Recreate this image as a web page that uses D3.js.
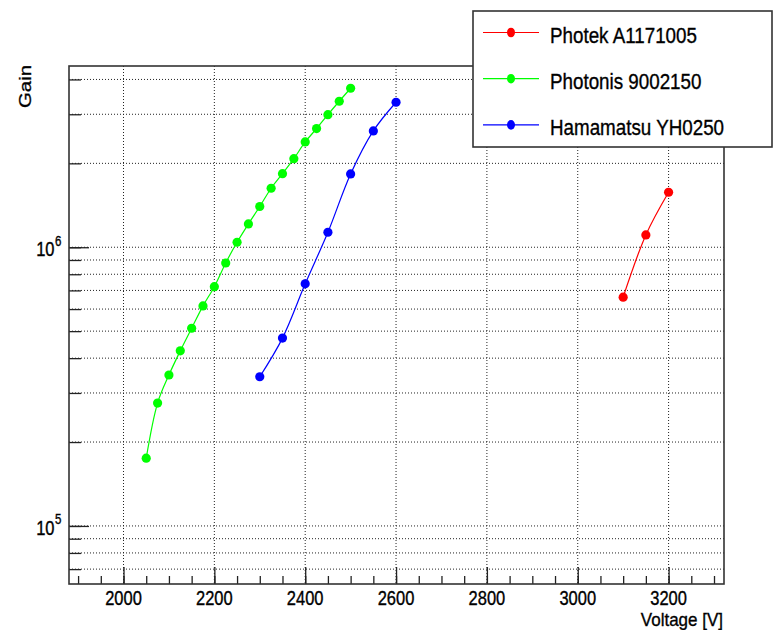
<!DOCTYPE html>
<html>
<head>
<meta charset="utf-8">
<script src="https://cdnjs.cloudflare.com/ajax/libs/d3/7.8.5/d3.min.js"></script>
<style>
  body { margin: 0; background: #fff; }
  svg { display: block; font-family: "Liberation Sans", Arial, sans-serif; }
  text { fill: #000; stroke: #000; stroke-width: 0.3px; }
</style>
</head>
<body>
<div id="chart"></div>
<script>
// data
let photekV = [3100, 3150, 3200];
let photekGain = [6.62e5, 1.107e6, 1.575e6];

let photonisV = [2050, 2075, 2100, 2125, 2150, 2175, 2200, 2225, 2250, 2275,
  2300, 2325, 2350, 2375, 2400, 2425, 2450, 2475, 2500];
let photonisGain = [1.75e5, 2.76e5, 3.48e5, 4.25e5, 5.12e5, 6.16e5, 7.22e5, 8.78e5, 1.042e6, 1.212e6,
  1.40e6, 1.628e6, 1.837e6, 2.079e6, 2.387e6, 2.665e6, 2.991e6, 3.341e6, 3.72e6];

let hamaV = [2300, 2350, 2400, 2450, 2500, 2550, 2600];
let hamaGain = [3.43e5, 4.72e5, 7.39e5, 1.132e6, 1.832e6, 2.615e6, 3.313e6];

let seriesNames = ["Photek A1171005", "Photonis 9002150", "Hamamatsu YH0250"];
let seriesColors = ["#ff0000", "#00ff00", "#0000ff"];

let xMajorTicks = [2000, 2200, 2400, 2600, 2800, 3000, 3200];
let xMinorTicks = d3.range(1900, 3301, 50);
let yTicks = [7e4, 8e4, 9e4, 1e5, 2e5, 3e5, 4e5, 5e5, 6e5, 7e5, 8e5, 9e5, 1e6, 2e6, 3e6, 4e6];
let yLabelTicks = [1e5, 1e6];

let W = 773, H = 630;
let padL = 69, padR = 724, padT = 66, padB = 584;
let sy = 1.2; // text in the picture is a bit taller than wide

let svg = d3
  .select("#chart")
  .append("svg")
  .attr("width", W)
  .attr("height", H);

let x = d3.scaleLinear().domain([1880, 3322]).range([padL, padR]);
let y = d3.scaleLog().domain([6.19e4, 4.47e6]).range([padB, padT]);

// grid
svg.append("g")
  .selectAll("line")
  .data(xMajorTicks)
  .enter()
  .append("line")
  .attr("x1", function (d) { return x(d); })
  .attr("x2", function (d) { return x(d); })
  .attr("y1", padT)
  .attr("y2", padB)
  .attr("stroke", "#222")
  .attr("stroke-width", 1)
  .attr("stroke-dasharray", "1,2");

svg.append("g")
  .selectAll("line")
  .data(yTicks)
  .enter()
  .append("line")
  .attr("x1", padL)
  .attr("x2", padR)
  .attr("y1", function (d) { return y(d); })
  .attr("y2", function (d) { return y(d); })
  .attr("stroke", "#222")
  .attr("stroke-width", 1)
  .attr("stroke-dasharray", "1,2");

// ticks (inside the frame)
function cleanAxis(g) {
  g.select(".domain").remove();
  g.selectAll("text").remove();
  g.selectAll("line").attr("stroke", "#222").attr("stroke-width", 1.3);
}

svg.append("g")
  .attr("transform", "translate(0," + padB + ")")
  .call(d3.axisBottom(x).tickValues(xMinorTicks).tickSize(-8))
  .call(cleanAxis);
svg.append("g")
  .attr("transform", "translate(0," + padB + ")")
  .call(d3.axisBottom(x).tickValues(xMajorTicks).tickSize(-17))
  .call(cleanAxis);
svg.append("g")
  .attr("transform", "translate(" + padL + ",0)")
  .call(d3.axisLeft(y).tickValues(yTicks).tickSize(-12))
  .call(cleanAxis);
svg.append("g")
  .attr("transform", "translate(" + padL + ",0)")
  .call(d3.axisLeft(y).tickValues(yLabelTicks).tickSize(-20))
  .call(cleanAxis);

// frame
svg.append("rect")
  .attr("x", padL)
  .attr("y", padT)
  .attr("width", padR - padL)
  .attr("height", padB - padT)
  .attr("fill", "none")
  .attr("stroke", "#333")
  .attr("stroke-width", 1.6);

// tick labels
svg.append("g")
  .selectAll("text")
  .data(xMajorTicks)
  .enter()
  .append("text")
  .attr("transform", function (d) {
    return "translate(" + x(d) + ",604.5) scale(1," + sy + ")";
  })
  .attr("text-anchor", "middle")
  .attr("font-size", 16.5)
  .text(function (d) { return d; });

let yl = svg.append("g")
  .selectAll("g")
  .data(yLabelTicks)
  .enter()
  .append("g")
  .attr("transform", function (d) {
    return "translate(54.5," + (y(d) + 9.2) + ") scale(1," + sy + ")";
  });
yl.append("text")
  .attr("text-anchor", "end")
  .attr("font-size", 16.5)
  .text("10");
yl.append("text")
  .attr("x", 0.5)
  .attr("y", -9)
  .attr("font-size", 11.5)
  .text(function (d) { return Math.round(Math.log10(d)); });

// axis titles
svg.append("text")
  .attr("transform", "translate(30.5,65) scale(1," + sy + ") rotate(-90)")
  .attr("text-anchor", "end")
  .attr("font-size", 17)
  .text("Gain");
svg.append("text")
  .attr("transform", "translate(723,625.5) scale(1,1.1)")
  .attr("text-anchor", "end")
  .attr("font-size", 17)
  .text("Voltage [V]");

// series
let allSeries = [
  { v: photekV, g: photekGain },
  { v: photonisV, g: photonisGain },
  { v: hamaV, g: hamaGain }
];

let line = d3.line()
  .x(function (d) { return x(d[0]); })
  .y(function (d) { return y(d[1]); })
  .curve(d3.curveCatmullRom.alpha(0.5));

allSeries.forEach(function (s, k) {
  let pts = s.v.map(function (v, i) { return [v, s.g[i]]; });
  svg.append("path")
    .datum(pts)
    .attr("d", line)
    .attr("fill", "none")
    .attr("stroke", seriesColors[k])
    .attr("stroke-width", 1.2);
  svg.append("g")
    .selectAll("circle")
    .data(pts)
    .enter()
    .append("circle")
    .attr("cx", function (d) { return x(d[0]); })
    .attr("cy", function (d) { return y(d[1]); })
    .attr("r", 4.6)
    .attr("fill", seriesColors[k]);
});

// legend
let lg = svg.append("g");
lg.append("rect")
  .attr("x", 473)
  .attr("y", 11)
  .attr("width", 299)
  .attr("height", 136)
  .attr("fill", "#fff")
  .attr("stroke", "#333")
  .attr("stroke-width", 1.6);

let rows = lg.selectAll("g.row")
  .data(seriesNames)
  .enter()
  .append("g")
  .attr("class", "row")
  .attr("transform", function (d, i) {
    return "translate(0," + (32.5 + i * 46.2) + ")";
  });
rows.append("line")
  .attr("x1", 483)
  .attr("x2", 539)
  .attr("stroke", function (d, i) { return seriesColors[i]; })
  .attr("stroke-width", 1.2);
rows.append("ellipse")
  .attr("cx", 511)
  .attr("rx", 4)
  .attr("ry", 4.8)
  .attr("fill", function (d, i) { return seriesColors[i]; });
rows.append("text")
  .attr("transform", "translate(550,10.4) scale(1," + sy + ")")
  .attr("font-size", 18.8)
  .text(function (d) { return d; });
</script>
</body>
</html>
